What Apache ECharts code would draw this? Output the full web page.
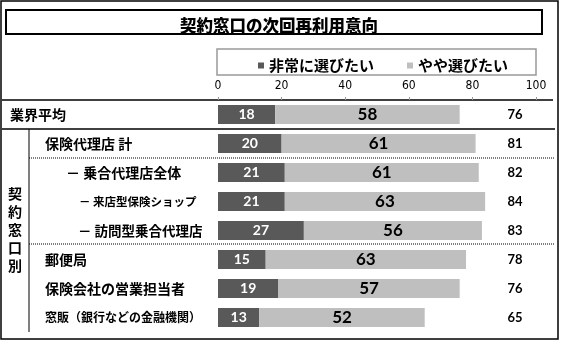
<!DOCTYPE html>
<html>
<head>
<meta charset="utf-8">
<script src="https://cdn.jsdelivr.net/npm/echarts@6/dist/echarts.min.js"></script>
<style>html,body{margin:0;padding:0;background:#fff}#c{width:562px;height:341px}</style>
</head>
<body>
<div id="c"></div>
<script>
var titleText = '契約窓口の次回再利用意向';
var categories = ['業界平均', '保険代理店 計', '－ 乗合代理店全体', '－ 来店型保険ショップ', '－ 訪問型乗合代理店', '郵便局', '保険会社の営業担当者', '窓販（銀行などの金融機関）'];
var seriesNames = ['非常に選びたい', 'やや選びたい'];
var veryValues = [18, 20, 21, 21, 27, 15, 19, 13];
var someValues = [58, 61, 61, 63, 56, 63, 57, 52];
var totals = [76, 81, 82, 84, 83, 78, 76, 65];
var xTicks = [0, 20, 40, 60, 80, 100];
var groupLabel = '契約窓口別';

var JP = '"Noto Sans CJK JP", sans-serif';
var NUM = 'Lato, "Liberation Sans", sans-serif';
var AX = '"Liberation Sans Narrow", "DejaVu Sans Condensed", "Liberation Sans", sans-serif';

var styleOf = {
  '業界平均': 'a',
  '保険代理店 計': 'b',
  '－ 乗合代理店全体': 'c',
  '－ 来店型保険ショップ': 'd',
  '－ 訪問型乗合代理店': 'e',
  '郵便局': 'b',
  '保険会社の営業担当者': 'b',
  '窓販（銀行などの金融機関）': 'f'
};

var chart = echarts.init(document.getElementById('c'), null, {renderer: 'canvas'});
chart.setOption({
  animation: false,
  backgroundColor: '#fff',
  title: {
    text: titleText,
    left: 274, top: 12, textAlign: 'center',
    textStyle: {fontFamily: JP, fontSize: 16.5, fontWeight: 900, color: '#000'}
  },
  legend: {
    data: seriesNames,
    left: 253, top: 53,
    icon: 'rect', itemWidth: 6, itemHeight: 6, itemGap: 33,
    textStyle: {fontFamily: JP, fontSize: 15, fontWeight: 'bold', color: '#000'}
  },
  grid: {left: 218, right: 26, top: 100, height: 232, containLabel: false},
  xAxis: {
    type: 'value', position: 'top', min: xTicks[0], max: xTicks[xTicks.length - 1], interval: 20,
    axisLine: {show: false},
    axisTick: {show: true, length: 3, lineStyle: {color: '#999'}},
    splitLine: {show: false},
    axisLabel: {margin: 8, fontFamily: AX, fontSize: 12, color: '#000'}
  },
  yAxis: [{
    type: 'category', data: categories, inverse: true,
    axisLine: {show: false}, axisTick: {show: false},
    axisLabel: {
      align: 'left', margin: 208,
      formatter: function (v) { return '{' + styleOf[v] + '|' + v + '}'; },
      rich: {
        a: {fontFamily: JP, fontSize: 14, fontWeight: 'bold', color: '#000'},
        b: {fontFamily: JP, fontSize: 14, fontWeight: 'bold', color: '#000', padding: [0, 0, 0, 35]},
        c: {fontFamily: JP, fontSize: 14, fontWeight: 'bold', color: '#000', padding: [0, 0, 0, 56]},
        d: {fontFamily: JP, fontSize: 11.5, fontWeight: 'bold', color: '#000', padding: [0, 0, 0, 69]},
        e: {fontFamily: JP, fontSize: 13.5, fontWeight: 'bold', color: '#000', padding: [0, 0, 0, 68]},
        f: {fontFamily: JP, fontSize: 12, fontWeight: 'bold', color: '#000', padding: [0, 0, 0, 35]}
      }
    }
  }, {
    type: 'category', data: categories, inverse: true, position: 'right',
    axisLine: {show: false}, axisTick: {show: false},
    axisLabel: {
      align: 'center', margin: -21,
      formatter: function (v, i) { return String(totals[i]); },
      fontFamily: NUM, fontSize: 13, fontWeight: 'bold', color: '#000'
    }
  }],
  series: [{
    name: seriesNames[0], type: 'bar', stack: 'x', barWidth: 19,
    data: veryValues,
    itemStyle: {color: '#595959'},
    label: {show: true, position: 'inside', color: '#fff', fontFamily: NUM, fontSize: 14, fontWeight: 'bold'}
  }, {
    name: seriesNames[1], type: 'bar', stack: 'x', barWidth: 19,
    data: someValues,
    itemStyle: {color: '#bfbfbf'},
    label: {show: true, position: 'inside', color: '#000', fontFamily: NUM, fontSize: 17, fontWeight: 'bold'}
  }],
  graphic: [
    {type: 'rect', shape: {x: 1, y: 1, width: 557, height: 338}, style: {fill: null, stroke: '#000', lineWidth: 1.5}, silent: true},
    {type: 'rect', shape: {x: 6, y: 10, width: 536, height: 24}, style: {fill: null, stroke: '#000', lineWidth: 2}, silent: true},
    {type: 'rect', shape: {x: 217, y: 49, width: 319, height: 26}, style: {fill: null, stroke: '#999', lineWidth: 1.5}, silent: true},
    {type: 'line', shape: {x1: 2, y1: 100, x2: 553, y2: 100}, style: {stroke: '#000', lineWidth: 1.5}, silent: true},
    {type: 'line', shape: {x1: 2, y1: 129, x2: 555, y2: 129}, style: {stroke: '#000', lineWidth: 1.5}, silent: true},
    {type: 'line', shape: {x1: 29, y1: 158, x2: 555, y2: 158}, style: {stroke: '#000', lineWidth: 1, lineDash: [1, 1]}, silent: true},
    {type: 'line', shape: {x1: 29, y1: 244, x2: 555, y2: 244}, style: {stroke: '#000', lineWidth: 1, lineDash: [1, 1]}, silent: true},
    {type: 'line', shape: {x1: 29, y1: 129, x2: 29, y2: 332}, style: {stroke: '#000', lineWidth: 1}, silent: true},
    {type: 'text', left: 8, top: 185, style: {text: groupLabel.split('').join('\n'), font: 'bold 14px "Noto Sans CJK JP"', lineHeight: 18, fill: '#000'}, silent: true}
  ]
});
</script>
</body>
</html>
